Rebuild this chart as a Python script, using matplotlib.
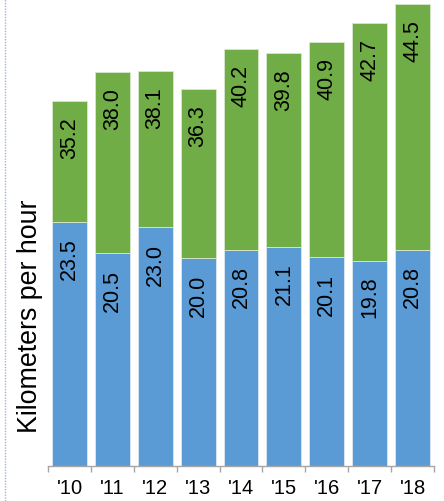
import numpy as np
import matplotlib
matplotlib.use("Agg")
import matplotlib.pyplot as plt
from matplotlib.lines import Line2D

plt.rcParams['font.family'] = ['Liberation Sans', 'DejaVu Sans']

years = ["'10", "'11", "'12", "'13", "'14", "'15", "'16", "'17", "'18"]
lower_speed = [23.5, 20.5, 23.0, 20.0, 20.8, 21.1, 20.1, 19.8, 20.8]
total_speed = [35.2, 38.0, 38.1, 36.3, 40.2, 39.8, 40.9, 42.7, 44.5]

BLUE = '#5b9bd5'
GREEN = '#70ad47'


def main():
    fig = plt.figure(figsize=(4.44, 5.02), dpi=100)
    ax = fig.add_axes([48 / 444, 1 - 467 / 502, (434 - 48) / 444, 467 / 502])

    x = np.arange(len(years))
    lower = np.array(lower_speed)
    total = np.array(total_speed)
    width = 0.815

    ax.bar(x, lower, width, color=BLUE, edgecolor='#dce8f4', linewidth=0.6)
    ax.bar(x, total - lower, width, bottom=lower, color=GREEN,
           edgecolor='#d8e8cc', linewidth=0.6)

    # value labels sit just inside the top of each segment
    for xi, lo, tot in zip(x, lower, total):
        for val in (lo, tot):
            ax.annotate(f"{val:.1f}", (xi, val), xytext=(0, -11),
                        textcoords='offset points', rotation=90,
                        ha='center', va='top', fontsize=15.5, color='black')

    ax.set_xlim(-0.5, len(years) - 0.5)
    ax.set_ylim(0, 45)

    for side in ('top', 'right', 'left'):
        ax.spines[side].set_visible(False)
    ax.spines['bottom'].set_color('#a6a6a6')
    ax.spines['bottom'].set_linewidth(1.0)

    ax.set_yticks([])
    ax.set_xticks(x)
    ax.set_xticklabels(years, fontsize=14.5)
    ax.tick_params(axis='x', which='major', length=0, pad=9)
    ax.set_xticks(np.arange(-0.5, len(years)), minor=True)
    ax.tick_params(axis='x', which='minor', length=4, width=1.0,
                   color='#a6a6a6', direction='out')

    fig.text(30 / 444, 1 - 316 / 502, 'Kilometers per hour', rotation=90,
             ha='center', va='center', fontsize=19.3)

    # dotted frame edge on the left
    fig.add_artist(Line2D([5 / 444, 5 / 444], [0, 1], color='#9db4dc',
                          linewidth=1.0, linestyle=(0, (1, 1))))

    fig.savefig('out.png', dpi=100)


if __name__ == "__main__":
    main()
